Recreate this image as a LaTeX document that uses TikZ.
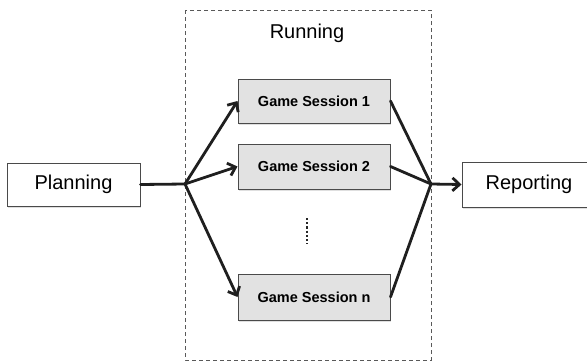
\documentclass[tikz,border=0pt]{standalone}
\usepackage{fontspec}
\setmainfont{Liberation Sans}
\usetikzlibrary{arrows.meta,shadows}
\definecolor{boxgray}{HTML}{E2E2E2}
\definecolor{edgegray}{HTML}{4A4A4A}
\tikzset{
  plainbox/.style={draw=edgegray, line width=1pt, fill=white, inner sep=0pt,
    font=\fontsize{20}{22}\selectfont,
    drop shadow={opacity=0.25, shadow xshift=1pt, shadow yshift=-2pt}},
  sessbox/.style={draw=edgegray, line width=1pt, fill=boxgray, inner sep=0pt,
    minimum width=152pt, font=\fontsize{14.5}{17}\selectfont\bfseries,
    drop shadow={opacity=0.25, shadow xshift=1pt, shadow yshift=-2pt}},
  conn/.style={line width=2.8pt, black!88, line cap=round},
  arr/.style={conn, -{Straight Barb[length=7pt,width=13pt,line width=2.8pt]}},
  frame/.style={draw=black!65, line width=0.9pt, dash pattern=on 4pt off 3pt}
}
\begin{document}
\begin{tikzpicture}[x=1pt,y=-1pt]
\clip (0,0) rectangle (587,362);
\fill[white] (0,0) rectangle (587,362);
\draw[frame] (185,10) rectangle (431,360);
\node (running) at (307,33) {\fontsize{20}{22}\selectfont Running};
\node[plainbox, minimum width=133pt, minimum height=43pt] (plan) at (73.5,184.5) {Planning};
\node[plainbox, minimum width=134pt, minimum height=45pt] (rep) at (529,184.5) {Reporting};
\node[sessbox, minimum height=44pt] (g1) at (314,101) {Game Session 1};
\node[sessbox, minimum height=45pt] (g2) at (314,166.5) {Game Session 2};
\node[sessbox, minimum height=46pt] (gn) at (314,297) {Game Session n};
\coordinate (jl) at (185,184);
\coordinate (jr) at (431,184);
\coordinate (d1) at (307,218);
\coordinate (d2) at (307,244);
\draw[line width=2.6pt, black!85, dash pattern=on 2.2pt off 2pt] (d1) -- (d2);
\draw[conn] (plan.east) -- (jl);
\draw[arr] (jl) -- (g1.west);
\draw[arr] (jl) -- (g2.west);
\draw[arr] (jl) -- (gn.west);
\draw[conn] (g1.east) -- (jr);
\draw[conn] (g2.east) -- (jr);
\draw[conn] (gn.east) -- (jr);
\draw[arr] (jr) -- (rep.west);
\end{tikzpicture}
\end{document}
